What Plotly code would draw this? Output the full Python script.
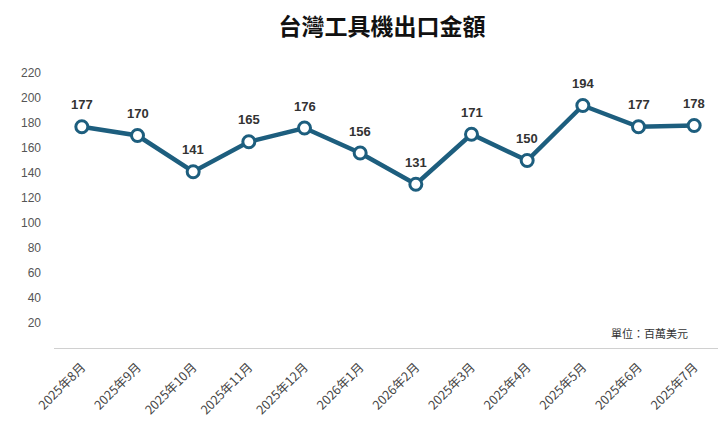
import plotly.graph_objects as go

# monthly export values (million USD)
months = ["2025年8月", "2025年9月", "2025年10月", "2025年11月", "2025年12月", "2026年1月",
          "2026年2月", "2025年3月", "2025年4月", "2025年5月", "2025年6月", "2025年7月"]
values = [177, 170, 141, 165, 176, 156, 131, 171, 150, 194, 177, 178]
y_ticks = [20, 40, 60, 80, 100, 120, 140, 160, 180, 200, 220]

LINE = "#1d5e7e"
FONT = "Liberation Sans, Arial, sans-serif"

fig = go.Figure()
fig.add_trace(go.Scatter(
    x=months, y=values,
    mode="lines+markers",
    line=dict(color=LINE, width=4.5),
    marker=dict(size=12, color="white", line=dict(color=LINE, width=3)),
    cliponaxis=False,
    showlegend=False,
))

# value labels above each point
for m, v in zip(months, values):
    fig.add_annotation(x=m, y=v, text="<b>%d</b>" % v, showarrow=False,
                       yshift=22, font=dict(family=FONT, size=13, color="#333333"))

fig.update_layout(
    width=726, height=425,
    margin=dict(l=46, r=12, t=65, b=85, autoexpand=False),
    paper_bgcolor="white", plot_bgcolor="white",
    title=dict(text="<b>台灣工具機出口金額</b>", x=0.515, xanchor="center",
               y=0.955, yanchor="middle",
               font=dict(family="Noto Sans CJK TC", size=23, color="#111111")),
    font=dict(family=FONT),
)
fig.update_xaxes(
    tickangle=-45, automargin=False,
    tickfont=dict(family="Noto Sans CJK TC, " + FONT, size=12.5, color="#444444"),
    showgrid=False, showline=True, linecolor="#d0d0d0", linewidth=1,
    ticks="", range=[-0.5, 11.5], ticklabelstandoff=6,
)
fig.update_yaxes(
    range=[0, 220], tickvals=y_ticks, automargin=False,
    tickfont=dict(family=FONT, size=12, color="#555555"),
    showgrid=False, zeroline=False, showline=False, ticks="",
    ticklabelstandoff=12,
)
fig.add_annotation(
    text="單位：百萬美元", xref="paper", yref="paper", x=0.952, y=0.055,
    xanchor="right", yanchor="middle", showarrow=False,
    font=dict(family="Noto Sans CJK TC", size=11, color="#333333"),
)

fig.write_html("out.html")
